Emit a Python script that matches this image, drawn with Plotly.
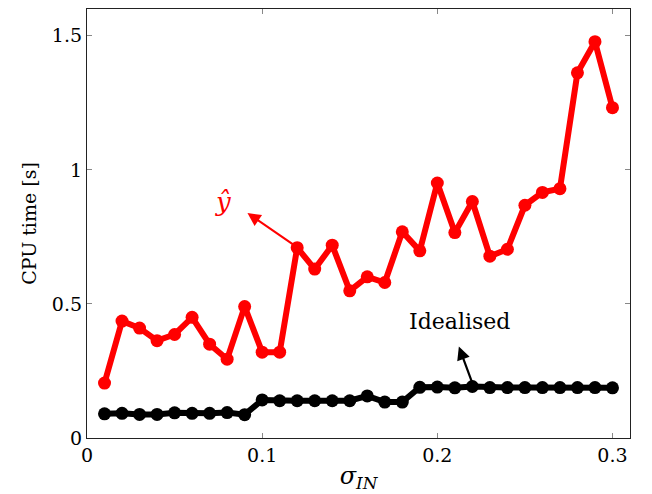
import plotly.graph_objects as go

sigma_in = [0.01, 0.02, 0.03, 0.04, 0.05, 0.06, 0.07, 0.08, 0.09, 0.10,
            0.11, 0.12, 0.13, 0.14, 0.15, 0.16, 0.17, 0.18, 0.19, 0.20,
            0.21, 0.22, 0.23, 0.24, 0.25, 0.26, 0.27, 0.28, 0.29, 0.30]
yhat_time = [0.205, 0.436, 0.41, 0.363, 0.386, 0.45, 0.35, 0.294, 0.49, 0.32,
             0.32, 0.71, 0.63, 0.719, 0.549, 0.601, 0.58, 0.769, 0.698, 0.951,
             0.766, 0.882, 0.678, 0.704, 0.868, 0.916, 0.93, 1.362, 1.478, 1.232]
ideal_time = [0.090, 0.092, 0.088, 0.088, 0.094, 0.092, 0.092, 0.095, 0.087, 0.142,
              0.139, 0.139, 0.139, 0.139, 0.139, 0.157, 0.134, 0.134, 0.189, 0.190,
              0.187, 0.192, 0.188, 0.188, 0.188, 0.188, 0.188, 0.188, 0.188, 0.187]

x_ticks = [0, 0.1, 0.2, 0.3]
x_tick_labels = ["0", "0.1", "0.2", "0.3"]
y_ticks = [0, 0.5, 1.0, 1.5]
y_tick_labels = ["0", "0.5", "1", "1.5"]

FONT = "DejaVu Serif"

fig = go.Figure()
fig.add_trace(go.Scatter(x=sigma_in, y=yhat_time, mode="lines+markers",
                         line=dict(color="#ff0000", width=6),
                         marker=dict(color="#ff0000", size=13),
                         showlegend=False))
fig.add_trace(go.Scatter(x=sigma_in, y=ideal_time, mode="lines+markers",
                         line=dict(color="#000000", width=6),
                         marker=dict(color="#000000", size=13),
                         showlegend=False))

fig.add_annotation(x=0.0916, y=0.839, ax=0.1197, ay=0.713, xref="x", yref="y",
                   axref="x", ayref="y", text="", showarrow=True,
                   arrowhead=2, arrowsize=1.2, arrowwidth=2.2, arrowcolor="#ff0000")
fig.add_annotation(x=0.0775, y=0.88, xref="x", yref="y", text="<i>ŷ</i>",
                   showarrow=False, font=dict(family=FONT, size=26, color="#ff0000"))
fig.add_annotation(x=0.2123, y=0.341, ax=0.22, ay=0.205, xref="x", yref="y",
                   axref="x", ayref="y", text="", showarrow=True,
                   arrowhead=2, arrowsize=1.2, arrowwidth=2.2, arrowcolor="#000000")
fig.add_annotation(x=0.2128, y=0.434, xref="x", yref="y", text="Idealised",
                   showarrow=False, font=dict(family=FONT, size=22, color="#000000"))

axis_common = dict(showgrid=False, zeroline=False, showline=True, linecolor="#222222",
                   linewidth=1.3, mirror="ticks", ticks="inside", ticklen=5,
                   tickcolor="#888888", tickwidth=1, automargin=False,
                   tickfont=dict(family=FONT, size=19, color="#000000"))

fig.update_xaxes(range=[0, 0.31], tickvals=x_ticks, ticktext=x_tick_labels,
                 title=dict(text="<i>σ</i><sub><i>IN</i></sub>",
                            font=dict(family=FONT, size=24, color="#000000"),
                            standoff=2),
                 **axis_common)
fig.update_yaxes(range=[0, 1.6], tickvals=y_ticks, ticktext=y_tick_labels,
                 title=dict(text="CPU time [s]",
                            font=dict(family=FONT, size=19, color="#000000"),
                            standoff=10),
                 **axis_common)

fig.update_layout(width=652, height=494,
                  margin=dict(l=87, r=22, t=9, b=56),
                  plot_bgcolor="white", paper_bgcolor="white",
                  font=dict(family=FONT))

fig.write_html("out.html")
